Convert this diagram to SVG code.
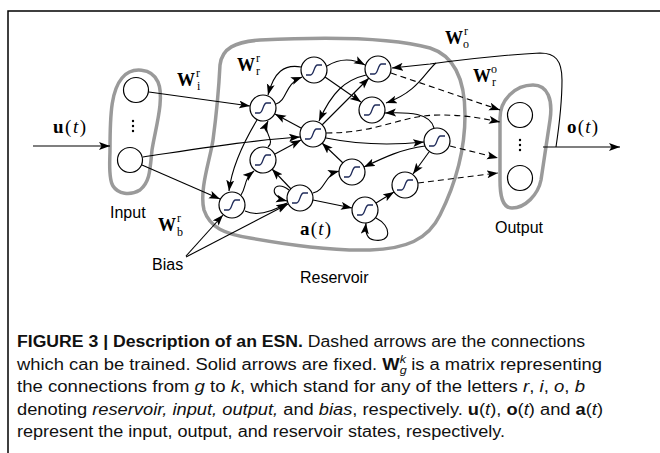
<svg xmlns="http://www.w3.org/2000/svg" xmlns:xlink="http://www.w3.org/1999/xlink" width="660" height="453" viewBox="0 0 660 453">
<style>
.frame{stroke:#000;stroke-width:1.5;fill:none}
.blob{fill:none;stroke:#9a9a9a;stroke-width:3.5}
.nc{fill:#fff;stroke:#000;stroke-width:1.2}
.sg{fill:none;stroke:#1f2b5a;stroke-width:1.3}
.ln{fill:none;stroke:#000;stroke-width:1.1}
.dl{fill:none;stroke:#000;stroke-width:1.1;stroke-dasharray:6,4}
.ms{font-family:"Liberation Serif","DejaVu Serif",serif;font-size:19px;fill:#000}
.W{font-family:"Liberation Serif","DejaVu Serif",serif;font-size:18px;font-weight:bold;fill:#000}
.sc{font-family:"Liberation Serif","DejaVu Serif",serif;font-size:12px;fill:#000}
.lb{font-family:"Liberation Sans",Arial,sans-serif;font-size:16px;fill:#000}
.cap{font-family:"Liberation Sans",Arial,sans-serif;font-size:16px;fill:#111}
.b{font-weight:bold}
.i{font-style:italic}
</style>
<defs>
<marker id="ah" markerUnits="userSpaceOnUse" markerWidth="12" markerHeight="9" refX="11" refY="4" orient="auto"><path d="M0,0 L11,4 L0,8 L2.5,4 z" fill="#000"/></marker>
<g id="neuron"><circle r="13" class="nc"/><path class="sg" d="M-8,5 H-3.5 C0,5 0,-5 3.5,-5 H8"/></g>
</defs>
<path class="frame" d="M8,453 V11 H660"/>

<g id="blobs">
<path id="input-blob" class="blob" d="M110,150 C110,110 112,90 122,78 C132,66 152,68 158,82 C165,98 155,130 152,150 C150,170 150,182 140,190 C130,196 118,194 113,186 C108,178 110,160 110,150 Z"/>
<path id="reservoir-blob" class="blob" d="M220,65 C222,48 235,42 260,40 C320,37 390,37 430,48 C455,56 465,80 465,115 C465,150 455,185 440,215 C428,240 405,249 370,250 C330,251 290,245 250,238 C225,234 210,228 204,210 C199,190 210,160 213,140 C217,110 219,85 220,65 Z"/>
<path id="output-blob" class="blob" d="M500,118 C500,100 515,85 533,85 C548,85 553,100 550,120 C547,140 544,160 541,180 C538,195 525,208 512,208 C502,208 500,195 500,180 C500,160 500,135 500,118 Z"/>
</g>

<g id="connectors">
<path class="ln" marker-end="url(#ah)" d="M33,146 H110"/>
<path class="ln" marker-end="url(#ah)" d="M149,92 L250,106"/>
<path class="ln" marker-end="url(#ah)" d="M143,157 C190,150 250,140 300,137"/>
<path class="ln" marker-end="url(#ah)" d="M142,165 L220,199"/>
<path class="ln" marker-end="url(#ah)" d="M186,256 L223,215"/>
<path class="ln" marker-end="url(#ah)" d="M186,257 L288,204"/>
<path class="ln" marker-end="url(#ah)" d="M245,211 C258,217 272,212 287,203"/>
<path class="ln" marker-end="url(#ah)" d="M257,120 C245,140 232,165 229,191"/>
<path class="ln" marker-end="url(#ah)" d="M276,104 C288,100 284,84 302,77"/>
<path class="ln" marker-end="url(#ah)" d="M301,67 C284,64 274,72 268,95"/>
<path class="ln" marker-end="url(#ah)" d="M327,66 C340,58 352,58 365,65"/>
<path class="ln" marker-end="url(#ah)" d="M325,77 L361,102"/>
<path class="ln" marker-end="url(#ah)" d="M366,75 C345,80 332,92 319,121"/>
<path class="ln" marker-end="url(#ah)" d="M322,125 L369,78"/>
<path class="ln" marker-end="url(#ah)" d="M301,128 L275,114"/>
<path class="ln" marker-end="url(#ah)" d="M268,147 C276,140 262,133 268,121"/>
<path class="ln" marker-end="url(#ah)" d="M275,154 L301,140"/>
<path class="ln" marker-end="url(#ah)" d="M241,195 C247,186 243,180 254,171"/>
<path class="ln" marker-end="url(#ah)" d="M291,189 L272,169"/>
<path class="ln" marker-end="url(#ah)" d="M313,193 C326,190 324,175 339,171"/>
<path class="ln" marker-end="url(#ah)" d="M313,200 L352,208"/>
<path class="ln" marker-end="url(#ah)" d="M289,190 C274,178 266,196 287,201"/>
<path class="ln" marker-end="url(#ah)" d="M376,218 C392,226 392,243 374,240 C367,239 365,232 366,223"/>
<path class="ln" marker-end="url(#ah)" d="M376,203 L394,192"/>
<path class="ln" marker-end="url(#ah)" d="M429,152 L413,174"/>
<path class="ln" marker-end="url(#ah)" d="M425,146 C402,149 385,157 364,167"/>
<path class="ln" marker-end="url(#ah)" d="M343,163 L322,143"/>
<path class="ln" marker-end="url(#ah)" d="M326,138 C360,145 395,145 424,142"/>
<path class="ln" marker-end="url(#ah)" d="M434,128 C430,113 410,112 385,113"/>
<path class="ln" marker-end="url(#ah)" d="M556,147 C560,120 562,100 562,80 C562,60 555,53 540,53 C500,55 460,60 430,64 L392,68"/>
<path class="ln" marker-end="url(#ah)" d="M436,63 C425,72 418,92 386,103"/>
<path class="ln" marker-end="url(#ah)" d="M543,147 H620"/>
<path class="dl" marker-end="url(#ah)" d="M391,73 L500,110"/>
<path class="dl" marker-end="url(#ah)" d="M326,133 C380,133 400,115 440,115 C468,115 485,119 500,122"/>
<path class="dl" marker-end="url(#ah)" d="M450,146 L498,158"/>
<path class="dl" marker-end="url(#ah)" d="M418,183 L498,173"/>
</g>

<g id="input-1"><circle cx="136" cy="90" r="12.5" class="nc"/></g>
<g id="input-dots"><circle cx="133" cy="121" r="1.2"/><circle cx="133" cy="126" r="1.2"/><circle cx="133" cy="131" r="1.2"/></g>
<g id="input-2"><circle cx="130" cy="160" r="12.5" class="nc"/></g>
<g id="output-1"><circle cx="520" cy="115" r="12.5" class="nc"/></g>
<g id="output-dots"><circle cx="520" cy="140" r="1.2"/><circle cx="520" cy="145" r="1.2"/><circle cx="520" cy="150" r="1.2"/></g>
<g id="output-2"><circle cx="520" cy="178" r="12.5" class="nc"/></g>

<g id="nA"><use xlink:href="#neuron" x="263" y="108"/></g>
<g id="nB"><use xlink:href="#neuron" x="314" y="70"/></g>
<g id="nC"><use xlink:href="#neuron" x="378" y="69"/></g>
<g id="nD"><use xlink:href="#neuron" x="372" y="110"/></g>
<g id="nE"><use xlink:href="#neuron" x="313" y="134"/></g>
<g id="nF"><use xlink:href="#neuron" x="437" y="141"/></g>
<g id="nG"><use xlink:href="#neuron" x="263" y="160"/></g>
<g id="nH"><use xlink:href="#neuron" x="352" y="172"/></g>
<g id="nI"><use xlink:href="#neuron" x="232" y="205"/></g>
<g id="nJ"><use xlink:href="#neuron" x="300" y="198"/></g>
<g id="nK"><use xlink:href="#neuron" x="365" y="210"/></g>
<g id="nL"><use xlink:href="#neuron" x="405" y="185"/></g>

<g id="labels">
<text class="ms" x="53" y="133" letter-spacing="1.5"><tspan class="b">u</tspan>(<tspan class="i">t</tspan>)</text>
<text class="ms" x="567" y="133" letter-spacing="1.2"><tspan class="b">o</tspan>(<tspan class="i">t</tspan>)</text>
<text class="ms" x="300" y="235" letter-spacing="1.2"><tspan class="b">a</tspan>(<tspan class="i">t</tspan>)</text>
<text class="W" x="177" y="86">W</text><text class="sc" x="196" y="77">r</text><text class="sc" x="197" y="90">i</text>
<text class="W" x="237" y="71">W</text><text class="sc" x="256" y="62">r</text><text class="sc" x="256" y="75">r</text>
<text class="W" x="445" y="44">W</text><text class="sc" x="464" y="35">r</text><text class="sc" x="463" y="48">o</text>
<text class="W" x="473" y="82">W</text><text class="sc" x="491" y="73">o</text><text class="sc" x="492" y="86">r</text>
<text class="W" x="158" y="231">W</text><text class="sc" x="177" y="222">r</text><text class="sc" x="177" y="236">b</text>
<text class="lb" x="110" y="218">Input</text>
<text class="lb" x="152" y="270">Bias</text>
<text class="lb" x="300" y="283">Reservoir</text>
<text class="lb" x="495" y="233">Output</text>
</g>

<g id="caption">
<text class="cap" x="17" y="347" textLength="568" lengthAdjust="spacingAndGlyphs"><tspan class="b">FIGURE 3 | Description of an ESN.</tspan> Dashed arrows are the connections</text>
<text class="cap" x="17" y="369.5" textLength="585" lengthAdjust="spacingAndGlyphs">which can be trained. Solid arrows are fixed. <tspan class="b">W</tspan><tspan class="i" font-size="11" dy="4">g</tspan><tspan class="i" font-size="11" dx="-6" dy="-11">k</tspan><tspan dy="7"> is a matrix representing</tspan></text>
<text class="cap" x="17" y="392" textLength="568" lengthAdjust="spacingAndGlyphs">the connections from <tspan class="i">g</tspan> to <tspan class="i">k</tspan>, which stand for any of the letters <tspan class="i">r</tspan>, <tspan class="i">i</tspan>, <tspan class="i">o</tspan>, <tspan class="i">b</tspan></text>
<text class="cap" x="17" y="414.5" textLength="586" lengthAdjust="spacingAndGlyphs">denoting <tspan class="i">reservoir, input, output,</tspan> and <tspan class="i">bias</tspan>, respectively. <tspan class="b">u</tspan>(<tspan class="i">t</tspan>), <tspan class="b">o</tspan>(<tspan class="i">t</tspan>) and <tspan class="b">a</tspan>(<tspan class="i">t</tspan>)</text>
<text class="cap" x="17" y="437" textLength="488" lengthAdjust="spacingAndGlyphs">represent the input, output, and reservoir states, respectively.</text>
</g>
</svg>
